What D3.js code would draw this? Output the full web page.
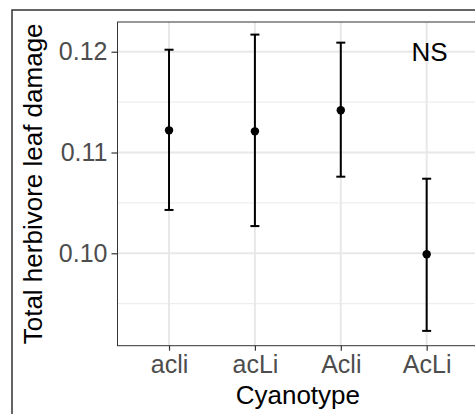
<!DOCTYPE html>
<html>
<head>
<meta charset="utf-8">
<script src="https://cdn.jsdelivr.net/npm/d3@7"></script>
<style>
  body { margin: 0; background: white; }
  text { font-family: 'Liberation Sans', Arial, sans-serif; }
</style>
</head>
<body>
<div id="chart"></div>
<script>
'use strict';

var categories = ['acli', 'acLi', 'Acli', 'AcLi'];
var means = [0.1122, 0.1121, 0.1142, 0.0999];
var lower = [0.1043, 0.1027, 0.1076, 0.0923];
var upper = [0.1202, 0.1217, 0.1209, 0.1074];
var majorTicks = [0.10, 0.11, 0.12];
var minorTicks = [0.095, 0.105, 0.115];
var tickLabels = ['0.10', '0.11', '0.12'];

var width = 475;
var height = 414;

var svg = d3.select('#chart')
    .append('svg')
    .attr('width', width)
    .attr('height', height);

// panel runs past the right edge, like the cropped original
var panel = { left: 117.5, top: 22, right: 478.2, bottom: 345.7 };

var x = d3.scalePoint()
    .domain(categories)
    .range([panel.left, panel.right])
    .padding(0.6);

var y = d3.scaleLinear()
    .domain([0.09083, 0.12295])
    .range([panel.bottom, panel.top]);

var points = categories.map(function (c, i) {
    return { cat: c, mean: means[i], lo: lower[i], hi: upper[i] };
});

// outer figure frame (only left and top edges fall inside the picture)
svg.append('rect')
    .attr('x', 12)
    .attr('y', 10)
    .attr('width', width + 20)
    .attr('height', height + 20)
    .style('fill', 'none')
    .style('stroke', '#333')
    .style('stroke-width', 1.5);

var grid = svg.append('g');

grid.selectAll('.minor')
    .data(minorTicks)
    .enter()
    .append('line')
    .attr('class', 'minor')
    .attr('x1', panel.left).attr('x2', panel.right)
    .attr('y1', function (d) { return y(d); })
    .attr('y2', function (d) { return y(d); })
    .style('stroke', '#eeeeee')
    .style('stroke-width', 1.3);

grid.selectAll('.major')
    .data(majorTicks)
    .enter()
    .append('line')
    .attr('class', 'major')
    .attr('x1', panel.left).attr('x2', panel.right)
    .attr('y1', function (d) { return y(d); })
    .attr('y2', function (d) { return y(d); })
    .style('stroke', '#e8e8e8')
    .style('stroke-width', 2);

grid.selectAll('.vmajor')
    .data(categories)
    .enter()
    .append('line')
    .attr('class', 'vmajor')
    .attr('x1', function (d) { return x(d); })
    .attr('x2', function (d) { return x(d); })
    .attr('y1', panel.top).attr('y2', panel.bottom)
    .style('stroke', '#e8e8e8')
    .style('stroke-width', 2);

svg.append('rect')
    .attr('x', panel.left)
    .attr('y', panel.top)
    .attr('width', panel.right - panel.left)
    .attr('height', panel.bottom - panel.top)
    .style('fill', 'none')
    .style('stroke', '#333')
    .style('stroke-width', 1);

// axes
var yAxis = d3.axisLeft(y)
    .tickValues(majorTicks)
    .tickSize(6)
    .tickPadding(4)
    .tickFormat(function (d, i) { return tickLabels[i]; });

var gy = svg.append('g')
    .attr('transform', 'translate(' + panel.left + ',0)')
    .call(yAxis);

var xAxis = d3.axisBottom(x)
    .tickSize(5)
    .tickPadding(5);

var gx = svg.append('g')
    .attr('transform', 'translate(0,' + panel.bottom + ')')
    .call(xAxis);

[gx, gy].forEach(function (g) {
    g.select('.domain').remove();
    g.selectAll('.tick line').style('stroke', '#333').style('stroke-width', 1.2);
    g.selectAll('.tick text')
        .style('font-size', '25px')
        .style('fill', '#4d4d4d')
        .style('font-family', "'Liberation Sans', Arial, sans-serif");
});

// error bars
var bars = svg.append('g');

bars.selectAll('.err')
    .data(points)
    .enter()
    .append('line')
    .attr('class', 'err')
    .attr('x1', function (d) { return x(d.cat); })
    .attr('x2', function (d) { return x(d.cat); })
    .attr('y1', function (d) { return y(d.lo); })
    .attr('y2', function (d) { return y(d.hi); })
    .style('stroke', 'black')
    .style('stroke-width', 2);

['lo', 'hi'].forEach(function (k) {
    bars.selectAll('.cap-' + k)
        .data(points)
        .enter()
        .append('line')
        .attr('class', 'cap-' + k)
        .attr('x1', function (d) { return x(d.cat) - 4.5; })
        .attr('x2', function (d) { return x(d.cat) + 4.5; })
        .attr('y1', function (d) { return y(d[k]); })
        .attr('y2', function (d) { return y(d[k]); })
        .style('stroke', 'black')
        .style('stroke-width', 2);
});

bars.selectAll('.pt')
    .data(points)
    .enter()
    .append('circle')
    .attr('class', 'pt')
    .attr('cx', function (d) { return x(d.cat); })
    .attr('cy', function (d) { return y(d.mean); })
    .attr('r', 4.2)
    .style('fill', 'black');

svg.append('text')
    .attr('x', x('AcLi') + 3)
    .attr('y', y(0.12))
    .attr('dy', '0.35em')
    .attr('text-anchor', 'middle')
    .style('font-size', '26px')
    .style('fill', 'black')
    .text('NS');

// axis titles
svg.append('text')
    .attr('x', (panel.left + panel.right) / 2)
    .attr('y', 403.5)
    .attr('text-anchor', 'middle')
    .style('font-size', '26px')
    .style('fill', 'black')
    .text('Cyanotype');

svg.append('text')
    .attr('transform', 'translate(42,' + ((panel.top + panel.bottom) / 2) + ') rotate(-90)')
    .attr('text-anchor', 'middle')
    .style('font-size', '26px')
    .style('fill', 'black')
    .text('Total herbivore leaf damage');
</script>
</body>
</html>
